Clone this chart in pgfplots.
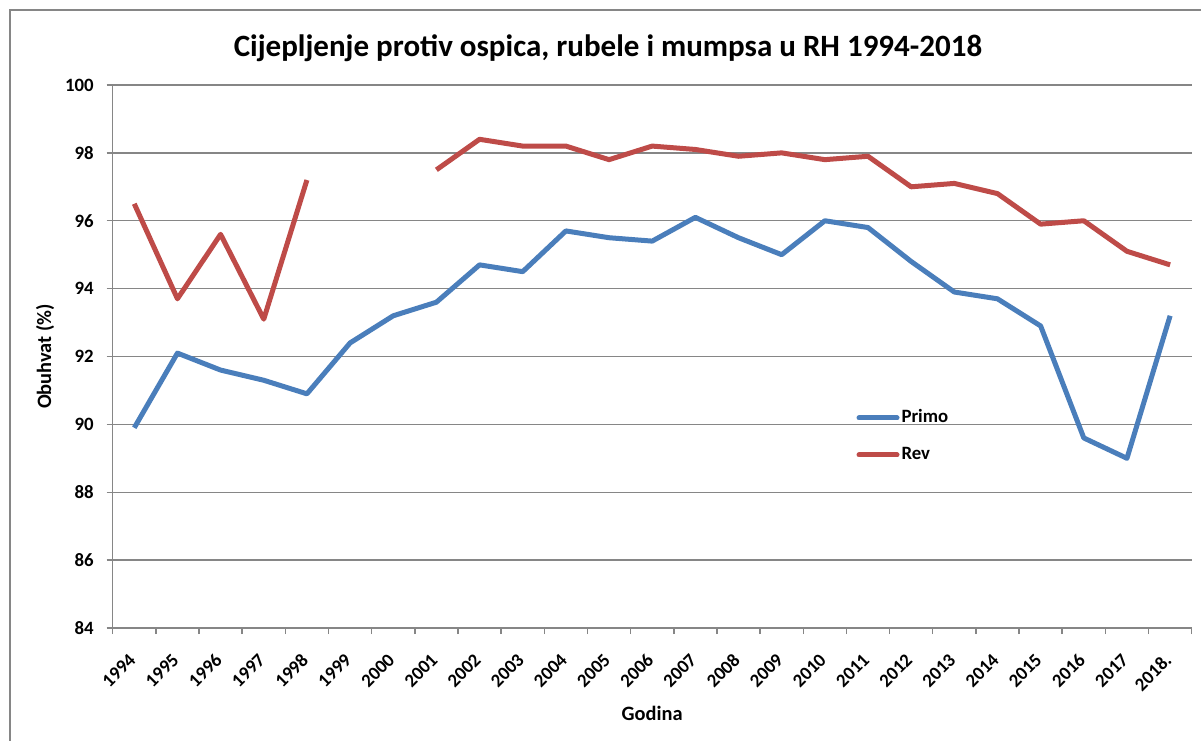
\documentclass[border=0pt]{standalone}
\usepackage{pgfplots}
\usepackage{pgfplotstable}
\pgfplotsset{compat=1.18}
\usepackage{fontspec}
\setmainfont{Carlito}
\definecolor{primo}{HTML}{4A7EBB}
\definecolor{rev}{HTML}{BE4B48}
\definecolor{gridc}{HTML}{868686}
\pgfplotstableread{
x primo rev
0 89.9 96.5
1 92.1 93.7
2 91.6 95.6
3 91.3 93.1
4 90.9 97.2
5 92.4 nan
6 93.2 nan
7 93.6 97.5
8 94.7 98.4
9 94.5 98.2
10 95.7 98.2
11 95.5 97.8
12 95.4 98.2
13 96.1 98.1
14 95.5 97.9
15 95.0 98.0
16 96.0 97.8
17 95.8 97.9
18 94.8 97.0
19 93.9 97.1
20 93.7 96.8
21 92.9 95.9
22 89.6 96.0
23 89.0 95.1
24 93.2 94.7
}\data
\begin{document}
\begin{tikzpicture}[x=1pt,y=1pt]
\useasboundingbox (0,0) rectangle (600.5,370);
\draw[gridc, line width=0.6pt] (5,-20) rectangle (620,365);
\node[font=\fontsize{15.5}{18}\selectfont\bfseries] at (304,346) {Cijepljenje protiv ospica, rubele i mumpsa u RH 1994-2018};
\begin{axis}[
  at={(56.35pt,56pt)}, anchor=south west, scale only axis,
  width=539.5pt, height=271.5pt,
  xmin=-0.5, xmax=24.5, ymin=84, ymax=100,
  ytick={84,86,...,100},
  xtick={0,...,24},
  xticklabels={1994,1995,1996,1997,1998,1999,2000,2001,2002,2003,2004,2005,2006,2007,2008,2009,2010,2011,2012,2013,2014,2015,2016,2017,2018.},
  minor xtick={-0.5,0.5,...,24.5},
  major x tick style={draw=none},
  tick align=outside,
  major tick length=3pt, minor tick length=3pt,
  axis lines*=left,
  axis line style={-, gridc, line width=0.75pt},
  tick style={gridc, line width=0.75pt},
  ymajorgrids, grid style={gridc, line width=0.75pt},
  xminorgrids=false,
  ticklabel style={font=\fontsize{9.4}{11}\selectfont\bfseries},
  /pgf/number format/assume math mode=true,
  xticklabel style={xshift=1.5pt, rotate=45, anchor=east},
  xticklabel shift=9pt,
  yticklabel style={xshift=-3pt},
  ylabel={Obuhvat (\%)},
  ylabel style={at={(axis description cs:-0.0627,0.5)}, anchor=center, font=\fontsize{10.2}{12}\selectfont\bfseries},
  xlabel={Godina},
  xlabel style={at={(axis description cs:0.5,-0.1565)}, anchor=center, font=\fontsize{10.2}{12}\selectfont\bfseries},
  unbounded coords=jump,
  legend style={at={(0.689,0.3527)}, anchor=west, draw=none, fill=none, inner sep=0pt,
    font=\fontsize{9.4}{11}\selectfont\bfseries,
    nodes={inner sep=1pt, text height=7pt, text depth=2pt}, row sep=7.5pt},
  legend cell align=left,
  legend image code/.code={\draw[#1, line cap=round] (0pt,0pt) -- (19pt,0pt);},
]
\addplot[primo, line width=2.5pt, line join=round] table[x=x, y=primo] {\data};
\addlegendentry{Primo}
\addplot[rev, line width=2.5pt, line join=round] table[x=x, y=rev] {\data};
\addlegendentry{Rev}
\end{axis}
\end{tikzpicture}
\end{document}
